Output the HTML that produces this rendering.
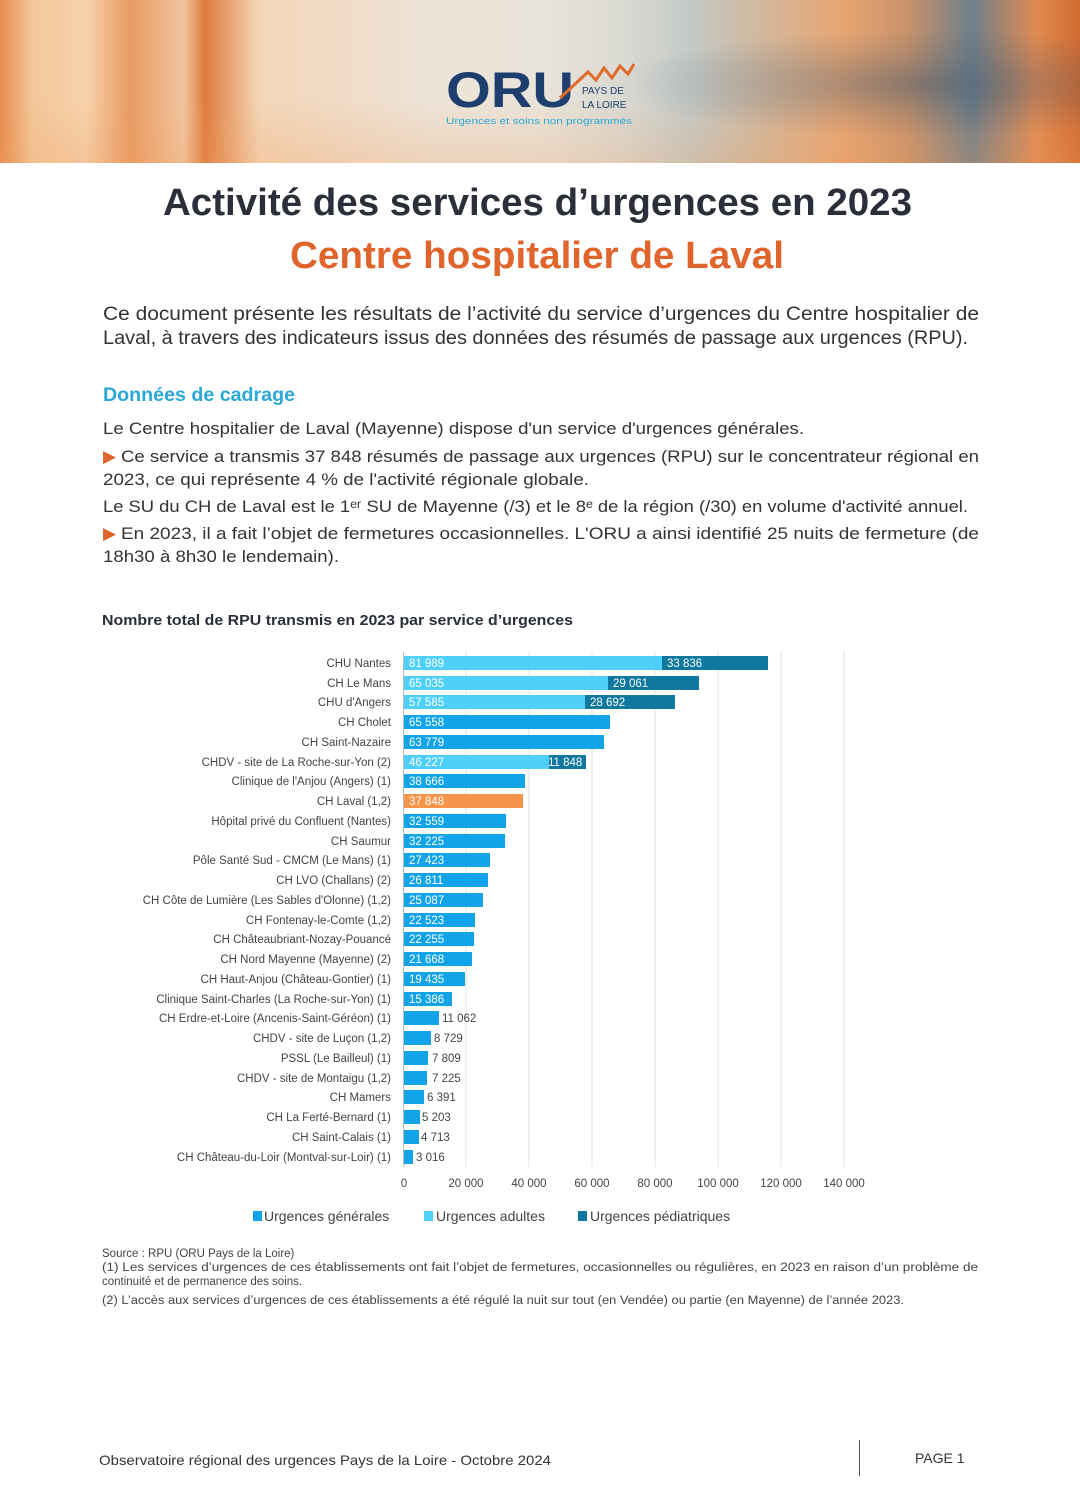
<!DOCTYPE html>
<html><head><meta charset="utf-8"><style>
html,body{margin:0;padding:0;background:#fff}
body{width:1080px;height:1512px;position:relative;overflow:hidden;font-family:"Liberation Sans",sans-serif}
#hdr{position:absolute;left:0;top:0;width:1080px;height:163px;
background:
linear-gradient(180deg,rgba(255,255,255,0) 0%,rgba(255,255,255,0) 60%,rgba(240,160,100,.25) 100%),
linear-gradient(90deg,#e78a4c 0%,#f3c79a 3%,#f6d2ac 8%,#e89a62 12%,#f1c6a0 17%,#e07a3c 19%,#f3d6b8 24%,#f0dcc8 32%,#ece4d8 40%,#e9e4da 50%,#d9d9d2 58%,#c4c9c6 64%,#d0b9a0 70%,#e7a572 78%,#c8926a 84%,#6f7f8a 90%,#e08a50 96%,#d06a30 100%);}
#blur{position:absolute;left:560px;top:30px;width:520px;height:120px;background:radial-gradient(ellipse 60% 45% at 70% 45%,rgba(60,85,110,.45) 0%,rgba(60,85,110,.2) 50%,rgba(60,85,110,0) 100%)}
</style></head><body>
<div id="hdr"></div><div id="blur"></div>
<svg width="1080" height="1512" style="position:absolute;left:0;top:0" font-family="Liberation Sans, sans-serif">
<text x="446" y="107" font-size="50" font-weight="bold" fill="#1e3e6e" textLength="128" lengthAdjust="spacingAndGlyphs">ORU</text>
<polyline points="560,98 588,72 596,80 604,68 612,78 620,66 628,74 634,64" fill="none" stroke="#e06a2a" stroke-width="3"/>
<text x="582" y="94" font-size="10" fill="#1e3e6e">PAYS DE</text>
<text x="582" y="108" font-size="10" fill="#1e3e6e">LA LOIRE</text>
<text x="446" y="124" font-size="9" fill="#2aa8d8" textLength="186" lengthAdjust="spacingAndGlyphs">Urgences et soins non programmés</text>

<text x="163" y="215" font-size="38" font-weight="bold" fill="#2a2f3a" textLength="749" lengthAdjust="spacingAndGlyphs">Activité des services d’urgences en 2023</text>
<text x="290" y="268" font-size="38" font-weight="bold" fill="#e0652c" textLength="494" lengthAdjust="spacingAndGlyphs">Centre hospitalier de Laval</text>

<g font-size="19" fill="#333">
<text x="103" y="320" textLength="876" lengthAdjust="spacingAndGlyphs">Ce document présente les résultats de l’activité du service d’urgences du Centre hospitalier de</text>
<text x="103" y="344" textLength="865" lengthAdjust="spacingAndGlyphs">Laval, à travers des indicateurs issus des données des résumés de passage aux urgences (RPU).</text>
</g>
<text x="103" y="401" font-size="19" font-weight="bold" fill="#2aa8d8" textLength="192" lengthAdjust="spacingAndGlyphs">Données de cadrage</text>
<g font-size="17" fill="#333">
<text x="103" y="434" textLength="701" lengthAdjust="spacingAndGlyphs">Le Centre hospitalier de Laval (Mayenne) dispose d'un service d'urgences générales.</text>
<text x="103" y="462" fill="#e0652c">▶</text>
<text x="121" y="462" textLength="858" lengthAdjust="spacingAndGlyphs">Ce service a transmis 37 848 résumés de passage aux urgences (RPU) sur le concentrateur régional en</text>
<text x="103" y="485" textLength="486" lengthAdjust="spacingAndGlyphs">2023, ce qui représente 4 % de l'activité régionale globale.</text>
<text x="103" y="512" textLength="865" lengthAdjust="spacingAndGlyphs">Le SU du CH de Laval est le 1ᵉʳ SU de Mayenne (/3) et le 8ᵉ de la région (/30) en volume d'activité annuel.</text>
<text x="103" y="539" fill="#e0652c">▶</text>
<text x="121" y="539" textLength="858" lengthAdjust="spacingAndGlyphs">En 2023, il a fait l’objet de fermetures occasionnelles. L'ORU a ainsi identifié 25 nuits de fermeture (de</text>
<text x="103" y="562" textLength="236" lengthAdjust="spacingAndGlyphs">18h30 à 8h30 le lendemain).</text>
</g>
<text x="102" y="625" font-size="15" font-weight="bold" fill="#2a2f3a" textLength="471" lengthAdjust="spacingAndGlyphs">Nombre total de RPU transmis en 2023 par service d’urgences</text>

<g stroke="#e0e0e0" stroke-width="1">
<line x1="466" y1="652" x2="466" y2="1167"/><line x1="529" y1="652" x2="529" y2="1167"/><line x1="592" y1="652" x2="592" y2="1167"/><line x1="655" y1="652" x2="655" y2="1167"/><line x1="718" y1="652" x2="718" y2="1167"/><line x1="781" y1="652" x2="781" y2="1167"/><line x1="844" y1="652" x2="844" y2="1167"/>
</g>
<line x1="403.5" y1="652" x2="403.5" y2="1167" stroke="#bbb"/>

<g font-size="11.5" fill="#444" text-anchor="end">
<text x="391" y="667">CHU Nantes</text>
<text x="391" y="687">CH Le Mans</text>
<text x="391" y="706">CHU d'Angers</text>
<text x="391" y="726">CH Cholet</text>
<text x="391" y="746">CH Saint-Nazaire</text>
<text x="391" y="766">CHDV - site de La Roche-sur-Yon (2)</text>
<text x="391" y="785">Clinique de l'Anjou (Angers) (1)</text>
<text x="391" y="805">CH Laval (1,2)</text>
<text x="391" y="825">Hôpital privé du Confluent (Nantes)</text>
<text x="391" y="845">CH Saumur</text>
<text x="391" y="864">Pôle Santé Sud - CMCM (Le Mans) (1)</text>
<text x="391" y="884">CH LVO (Challans) (2)</text>
<text x="391" y="904">CH Côte de Lumière (Les Sables d'Olonne) (1,2)</text>
<text x="391" y="924">CH Fontenay-le-Comte (1,2)</text>
<text x="391" y="943">CH Châteaubriant-Nozay-Pouancé</text>
<text x="391" y="963">CH Nord Mayenne (Mayenne) (2)</text>
<text x="391" y="983">CH Haut-Anjou (Château-Gontier) (1)</text>
<text x="391" y="1003">Clinique Saint-Charles (La Roche-sur-Yon) (1)</text>
<text x="391" y="1022">CH Erdre-et-Loire (Ancenis-Saint-Géréon) (1)</text>
<text x="391" y="1042">CHDV - site de Luçon (1,2)</text>
<text x="391" y="1062">PSSL (Le Bailleul) (1)</text>
<text x="391" y="1082">CHDV - site de Montaigu (1,2)</text>
<text x="391" y="1101">CH Mamers</text>
<text x="391" y="1121">CH La Ferté-Bernard (1)</text>
<text x="391" y="1141">CH Saint-Calais (1)</text>
<text x="391" y="1161">CH Château-du-Loir (Montval-sur-Loir) (1)</text>
</g>

<g>
<rect x="404" y="656" width="258" height="14" fill="#4fd0fb"/><rect x="662" y="656" width="106" height="14" fill="#0f789e"/>
<rect x="404" y="676" width="204" height="14" fill="#4fd0fb"/><rect x="608" y="676" width="91" height="14" fill="#0f789e"/>
<rect x="404" y="695" width="181" height="14" fill="#4fd0fb"/><rect x="585" y="695" width="90" height="14" fill="#0f789e"/>
<rect x="404" y="715" width="206" height="14" fill="#12a4e8"/>
<rect x="404" y="735" width="200" height="14" fill="#12a4e8"/>
<rect x="404" y="755" width="145" height="14" fill="#4fd0fb"/><rect x="549" y="755" width="37" height="14" fill="#0f789e"/>
<rect x="404" y="774" width="121" height="14" fill="#12a4e8"/>
<rect x="404" y="794" width="119" height="14" fill="#f5944a"/>
<rect x="404" y="814" width="102" height="14" fill="#12a4e8"/>
<rect x="404" y="834" width="101" height="14" fill="#12a4e8"/>
<rect x="404" y="853" width="86" height="14" fill="#12a4e8"/>
<rect x="404" y="873" width="84" height="14" fill="#12a4e8"/>
<rect x="404" y="893" width="79" height="14" fill="#12a4e8"/>
<rect x="404" y="913" width="71" height="14" fill="#12a4e8"/>
<rect x="404" y="932" width="70" height="14" fill="#12a4e8"/>
<rect x="404" y="952" width="68" height="14" fill="#12a4e8"/>
<rect x="404" y="972" width="61" height="14" fill="#12a4e8"/>
<rect x="404" y="992" width="48" height="14" fill="#12a4e8"/>
<rect x="404" y="1011" width="35" height="14" fill="#12a4e8"/>
<rect x="404" y="1031" width="27" height="14" fill="#12a4e8"/>
<rect x="404" y="1051" width="24" height="14" fill="#12a4e8"/>
<rect x="404" y="1071" width="23" height="14" fill="#12a4e8"/>
<rect x="404" y="1090" width="20" height="14" fill="#12a4e8"/>
<rect x="404" y="1110" width="16" height="14" fill="#12a4e8"/>
<rect x="404" y="1130" width="15" height="14" fill="#12a4e8"/>
<rect x="404" y="1150" width="9" height="14" fill="#12a4e8"/>
</g>
<g font-size="11.5" fill="#fff">
<text x="409" y="667">81 989</text><text x="667" y="667">33 836</text>
<text x="409" y="687">65 035</text><text x="613" y="687">29 061</text>
<text x="409" y="706">57 585</text><text x="590" y="706">28 692</text>
<text x="409" y="726">65 558</text>
<text x="409" y="746">63 779</text>
<text x="409" y="766">46 227</text><text x="548" y="766">11 848</text>
<text x="409" y="785">38 666</text>
<text x="409" y="805">37 848</text>
<text x="409" y="825">32 559</text>
<text x="409" y="845">32 225</text>
<text x="409" y="864">27 423</text>
<text x="409" y="884">26 811</text>
<text x="409" y="904">25 087</text>
<text x="409" y="924">22 523</text>
<text x="409" y="943">22 255</text>
<text x="409" y="963">21 668</text>
<text x="409" y="983">19 435</text>
<text x="409" y="1003">15 386</text>
</g>
<g font-size="11.5" fill="#444">
<text x="442" y="1022">11 062</text>
<text x="434" y="1042">8 729</text>
<text x="432" y="1062">7 809</text>
<text x="432" y="1082">7 225</text>
<text x="427" y="1101">6 391</text>
<text x="422" y="1121">5 203</text>
<text x="421" y="1141">4 713</text>
<text x="416" y="1161">3 016</text>
</g>
<g font-size="11.5" fill="#444" text-anchor="middle">
<text x="404" y="1187">0</text><text x="466" y="1187">20 000</text><text x="529" y="1187">40 000</text><text x="592" y="1187">60 000</text><text x="655" y="1187">80 000</text><text x="718" y="1187">100 000</text><text x="781" y="1187">120 000</text><text x="844" y="1187">140 000</text>
</g>
<g font-size="14" fill="#444">
<rect x="253" y="1211" width="9" height="10" fill="#12a4e8"/><text x="264" y="1221">Urgences générales</text>
<rect x="424" y="1211" width="9" height="10" fill="#4fd0fb"/><text x="436" y="1221">Urgences adultes</text>
<rect x="578" y="1211" width="9" height="10" fill="#0f789e"/><text x="590" y="1221">Urgences pédiatriques</text>
</g>
<g font-size="11.5" fill="#444">
<text x="102" y="1257">Source : RPU (ORU Pays de la Loire)</text>
<text x="102" y="1271" textLength="876" lengthAdjust="spacingAndGlyphs">(1) Les services d’urgences de ces établissements ont fait l’objet de fermetures, occasionnelles ou régulières, en 2023 en raison d’un problème de</text>
<text x="102" y="1285">continuité et de permanence des soins.</text>
<text x="102" y="1304" textLength="802" lengthAdjust="spacingAndGlyphs">(2) L’accès aux services d’urgences de ces établissements a été régulé la nuit sur tout (en Vendée) ou partie (en Mayenne) de l’année 2023.</text>
</g>
<text x="99" y="1465" font-size="14" fill="#333" textLength="452" lengthAdjust="spacingAndGlyphs">Observatoire régional des urgences Pays de la Loire - Octobre 2024</text>
<line x1="859.5" y1="1440" x2="859.5" y2="1476" stroke="#555"/>
<text x="915" y="1463" font-size="14" fill="#333">PAGE 1</text>
</svg>
</body></html>
